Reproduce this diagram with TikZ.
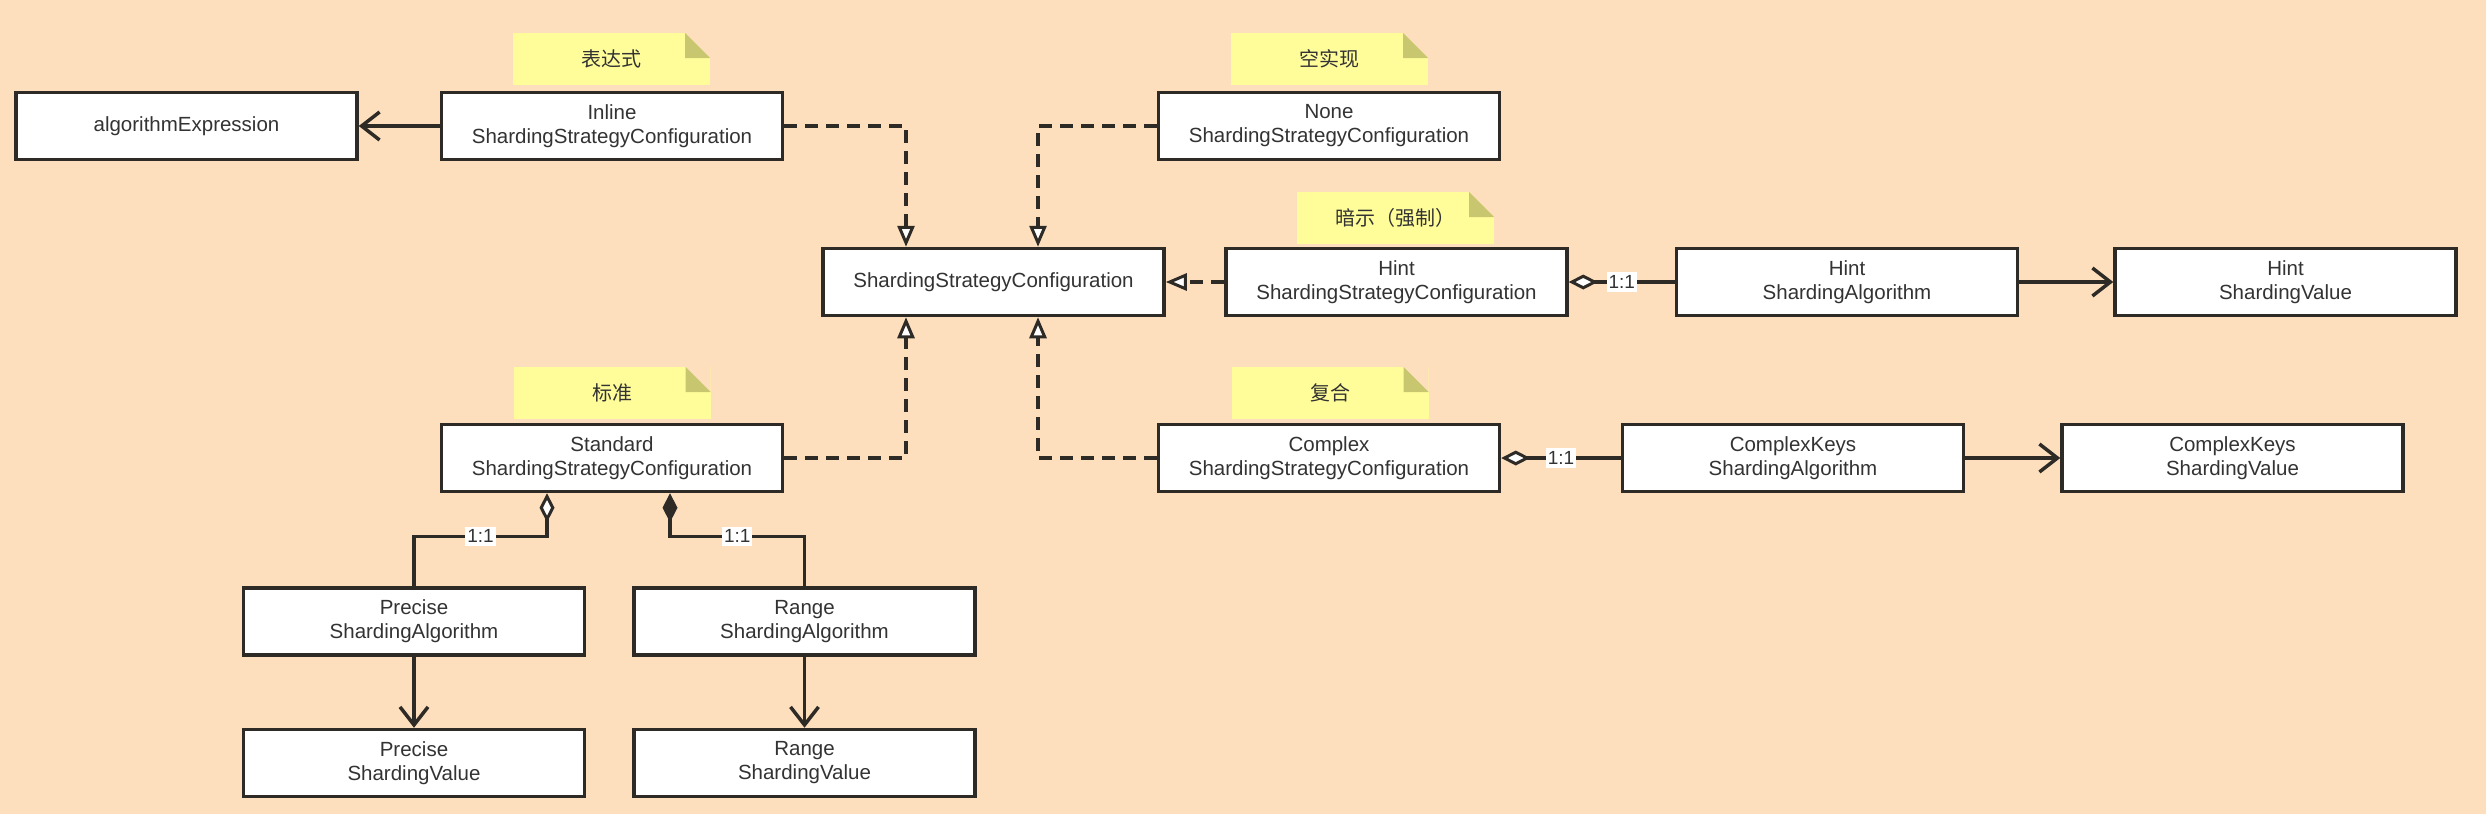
\documentclass[tikz,border=0pt]{standalone}
\usepackage{fontspec}
\setmainfont{Liberation Sans}
\newfontfamily\cjk{Noto Sans CJK SC}
\usetikzlibrary{arrows.meta}
\definecolor{bgc}{HTML}{FDDFBE}
\definecolor{noteY}{HTML}{FFFD9A}
\definecolor{foldC}{HTML}{C8C66E}
\definecolor{ink}{HTML}{2E2A26}
\definecolor{txt}{HTML}{333333}
\begin{document}
\begin{tikzpicture}[x=1pt,y=-1pt,
  cls/.style={draw=ink, line width=3.5pt, fill=white, minimum width=341pt, minimum height=67pt,
    align=center, font=\fontsize{20.5}{24}\selectfont, text=txt, inner sep=0pt},
  note/.style={fill=noteY, minimum width=197pt, minimum height=52pt, inner sep=0pt,
    font=\cjk\fontsize{20}{24}\selectfont, text=txt,
    path picture={
      \fill[bgc] ([xshift=-25pt]path picture bounding box.north east) -- (path picture bounding box.north east) -- ([yshift=-25pt]path picture bounding box.north east) -- cycle;
      \fill[foldC] ([xshift=-25pt]path picture bounding box.north east) -- ([xshift=-25pt,yshift=-25pt]path picture bounding box.north east) -- ([yshift=-25pt]path picture bounding box.north east) -- cycle;}},
  lbl/.style={fill=white, inner xsep=2pt, inner ysep=3pt, font=\fontsize{19}{21}\selectfont, text=txt},
  conn/.style={draw=ink, line width=3.5pt},
  dsh/.style={conn, dash pattern=on 13pt off 8pt},
  real/.style={-{Triangle[length=21pt,width=17pt,fill=white,line width=3pt]}},
  nav/.style={-{Straight Barb[length=18pt,width=28pt,line width=3.5pt]}},
  agg/.style={{Diamond[length=29pt,width=15pt,fill=white,line width=3pt]}-},
  comp/.style={{Diamond[length=29pt,width=15pt,line width=3pt]}-}]
\useasboundingbox (0,0) rectangle (2486,814);
\fill[bgc] (0,0) rectangle (2486,814);

% classes
\node[cls] (algo) at (186.5,126) {algorithmExpression};
\node[cls] (inline) at (612,126) {Inline\\ShardingStrategyConfiguration};
\node[cls] (none) at (1329,126) {None\\ShardingStrategyConfiguration};
\node[cls] (ssc) at (993.5,282) {ShardingStrategyConfiguration};
\node[cls] (hint) at (1396.5,282) {Hint\\ShardingStrategyConfiguration};
\node[cls] (hintsa) at (1847,282) {Hint\\ShardingAlgorithm};
\node[cls] (hintsv) at (2285.5,282) {Hint\\ShardingValue};
\node[cls] (standard) at (612,458) {Standard\\ShardingStrategyConfiguration};
\node[cls] (complex) at (1329,458) {Complex\\ShardingStrategyConfiguration};
\node[cls] (cksa) at (1793,458) {ComplexKeys\\ShardingAlgorithm};
\node[cls] (cksv) at (2232.5,458) {ComplexKeys\\ShardingValue};
\node[cls] (psa) at (414,621.5) {Precise\\ShardingAlgorithm};
\node[cls] (rsa) at (804.5,621.5) {Range\\ShardingAlgorithm};
\node[cls] (psv) at (414,763) {Precise\\ShardingValue};
\node[cls] (rsv) at (804.5,763) {Range\\ShardingValue};

% notes
\node[note] (n1) at (611.5,59) {表达式};
\node[note] (n2) at (1329.5,59) {空实现};
\node[note] (n3) at (1395.5,218) {暗示（强制）};
\node[note] (n4) at (612,393) {标准};
\node[note] (n5) at (1330,393) {复合};

% connectors
\draw[conn,nav] (inline.west) -- (algo.east);
\draw[dsh,real] (inline.east) -| ([xshift=-87.5pt]ssc.north);
\draw[dsh,real] (none.west) -| ([xshift=44.5pt]ssc.north);
\draw[dsh,real] (standard.east) -| ([xshift=-87.5pt]ssc.south);
\draw[dsh,real] (complex.west) -| ([xshift=44.5pt]ssc.south);
\draw[dsh,real] (hint.west) -- (ssc.east);
\draw[conn,agg] (hint.east) -- node[lbl]{1:1} (hintsa.west);
\draw[conn,nav] (hintsa.east) -- (hintsv.west);
\draw[conn,agg] (complex.east) -- node[lbl]{1:1} (cksa.west);
\draw[conn,nav] (cksa.east) -- (cksv.west);
\path (psa.north) ++(0,-50) coordinate (pk);
\path (rsa.north) ++(0,-50) coordinate (rk);
\draw[conn,agg] ([xshift=-65pt]standard.south) |- node[lbl,pos=0.75]{1:1} (pk) -- (psa.north);
\draw[conn,comp] ([xshift=58pt]standard.south) |- node[lbl,pos=0.75]{1:1} (rk) -- (rsa.north);
\draw[conn,nav] (psa.south) -- (psv.north);
\draw[conn,nav] (rsa.south) -- (rsv.north);
\end{tikzpicture}
\end{document}
